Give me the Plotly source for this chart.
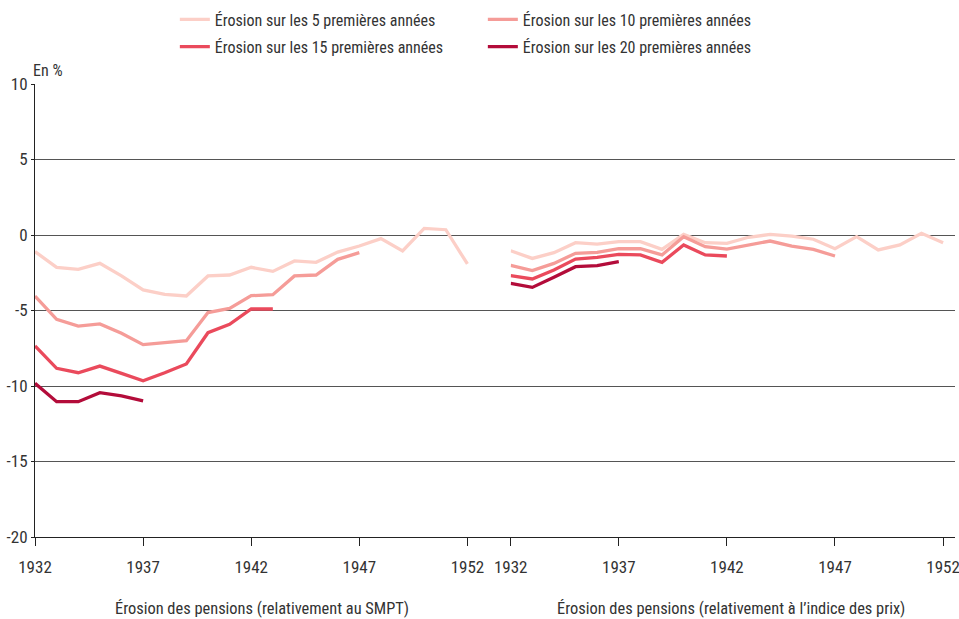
import plotly.graph_objects as go
from plotly.subplots import make_subplots

# years
years = list(range(1932, 1953))

# left panel: erosion relative to SMPT (in %)
smpt_5 = [-1.1, -2.14, -2.27, -1.88, -2.71, -3.64, -3.93, -4.04, -2.71, -2.65, -2.14,
          -2.41, -1.72, -1.81, -1.13, -0.73, -0.24, -1.06, 0.44, 0.35, -1.92]
smpt_10 = [-4.04, -5.58, -6.03, -5.89, -6.51, -7.26, -7.13, -7.0, -5.14, -4.86, -4.02,
           -3.95, -2.71, -2.65, -1.61, -1.17]
smpt_15 = [-7.35, -8.83, -9.12, -8.68, -9.16, -9.65, -9.12, -8.54, -6.47, -5.92, -4.90, -4.90]
smpt_20 = [-9.82, -11.04, -11.04, -10.44, -10.66, -10.99]

# right panel: erosion relative to price index (in %)
prix_5 = [-1.04, -1.55, -1.17, -0.51, -0.60, -0.44, -0.44, -0.95, 0.04, -0.51, -0.55,
          -0.15, 0.04, -0.07, -0.28, -0.91, -0.11, -0.99, -0.66, 0.11, -0.51]
prix_10 = [-2.01, -2.36, -1.88, -1.21, -1.15, -0.91, -0.91, -1.32, -0.11, -0.77, -0.93,
           -0.66, -0.40, -0.73, -0.95, -1.39]
prix_15 = [-2.69, -2.91, -2.32, -1.59, -1.48, -1.28, -1.32, -1.81, -0.66, -1.32, -1.39]
prix_20 = [-3.2, -3.47, -2.80, -2.10, -2.03, -1.77]

y_ticks = [-20, -15, -10, -5, 0, 5, 10]
y_labels = ["-20", "-15", "-10", "-5", "0", "5", "10"]
x_ticks = [1932, 1937, 1942, 1947, 1952]

names = [
    "Érosion sur les 5 premières années",
    "Érosion sur les 10 premières années",
    "Érosion sur les 15 premières années",
    "Érosion sur les 20 premières années",
]
colors = ["#fccfc7", "#f59c98", "#ea4a5c", "#b30c3a"]
legends = ["legend", "legend", "legend2", "legend2"]

FONT = "Liberation Sans Narrow, Roboto Condensed, Arial Narrow, sans-serif"
TXT = "#333333"

fig = make_subplots(rows=1, cols=2, shared_yaxes=True, horizontal_spacing=0,
                    column_widths=[22, 20.55])

left = [smpt_5, smpt_10, smpt_15, smpt_20]
right = [prix_5, prix_10, prix_15, prix_20]
for i in range(4):
    fig.add_trace(go.Scatter(
        x=years[:len(left[i])], y=left[i], mode="lines", name=names[i],
        line={"color": colors[i], "width": 3.3}, legend=legends[i],
    ), row=1, col=1)
    fig.add_trace(go.Scatter(
        x=years[:len(right[i])], y=right[i], mode="lines", name=names[i],
        line={"color": colors[i], "width": 3.3}, showlegend=False,
    ), row=1, col=2)

xcommon = dict(
    tickvals=x_ticks, ticks="outside", ticklen=8,
    tickcolor="#222", showline=True, linecolor="#222", linewidth=1,
    showgrid=False, zeroline=False, tickfont={"size": 17, "color": TXT},
    ticklabelstandoff=7, ticklabeloverflow="allow",
)
fig.update_xaxes(range=[1932, 1954], row=1, col=1, **xcommon)
fig.update_xaxes(range=[1932, 1952.55], row=1, col=2, **xcommon)

fig.update_yaxes(
    range=[-20, 10], tickvals=y_ticks, ticktext=y_labels,
    showgrid=True, gridcolor="#555", gridwidth=1, zeroline=False,
    tickfont={"size": 17, "color": TXT}, ticklabeloverflow="allow",
)
fig.update_yaxes(showline=True, linecolor="#222", ticks="outside", ticklen=3,
                 tickcolor="#222", row=1, col=1)
fig.update_yaxes(showline=False, ticks="", row=1, col=2)

fig.update_layout(
    width=959, height=619,
    margin={"l": 35, "r": 4, "t": 84, "b": 82, "autoexpand": False},
    plot_bgcolor="white", paper_bgcolor="white",
    font={"family": FONT, "color": TXT, "size": 16},
    legend={"orientation": "h", "x": 0.152, "xanchor": "left", "y": 1.18,
            "yanchor": "top", "entrywidth": 263, "entrywidthmode": "pixels",
            "font": {"size": 16, "color": TXT}, "itemwidth": 30},
    legend2={"orientation": "h", "x": 0.152, "xanchor": "left", "y": 1.12,
             "yanchor": "top", "entrywidth": 263, "entrywidthmode": "pixels",
             "font": {"size": 16, "color": TXT}, "itemwidth": 30},
    annotations=[
        {"text": "En %", "xref": "paper", "yref": "paper", "x": 0.0, "y": 1.0,
         "xanchor": "left", "yanchor": "bottom", "showarrow": False,
         "font": {"size": 16, "color": TXT}, "yshift": 2, "xshift": -4},
        {"text": "Érosion des pensions (relativement au SMPT)", "xref": "paper",
         "yref": "paper", "x": 0.2467, "y": -0.157, "xanchor": "center",
         "yanchor": "middle", "showarrow": False, "font": {"size": 16.4, "color": TXT}},
        {"text": "Érosion des pensions (relativement à l’indice des prix)", "xref": "paper",
         "yref": "paper", "x": 0.7565, "y": -0.157, "xanchor": "center",
         "yanchor": "middle", "showarrow": False, "font": {"size": 16.4, "color": TXT}},
    ],
)

# drop the default page margin so the 959x619 figure fills the window exactly
fig.write_html("out.html", config={"displayModeBar": False},
               post_script="document.body.style.margin='0';")
